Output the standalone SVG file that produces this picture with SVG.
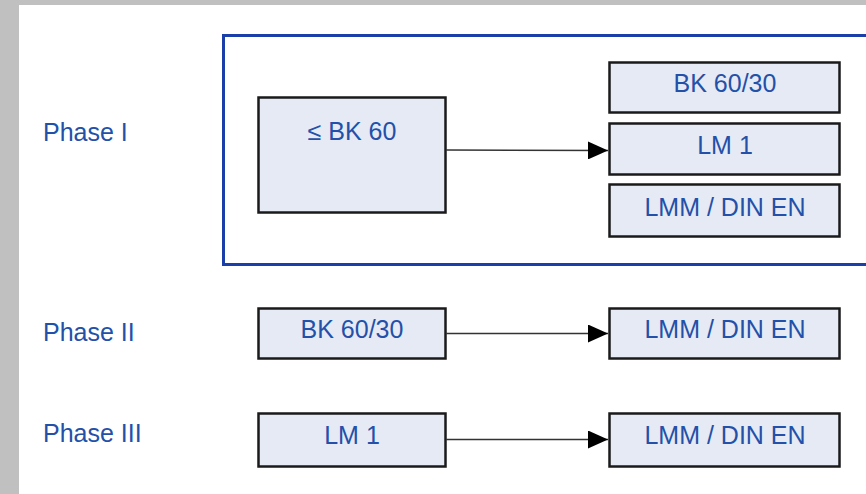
<svg xmlns="http://www.w3.org/2000/svg" width="866" height="494" viewBox="0 0 866 494">
  <style>
    .phase { font-family: "Liberation Sans", Arial, sans-serif; font-size: 25px; fill: #2350a8; }
    .box rect { fill: #e6eaf5; stroke: #1a1a1a; stroke-width: 2.5; }
    .box text { font-family: "Liberation Sans", Arial, sans-serif; font-size: 25px; fill: #2350a8; text-anchor: middle; }
    .conn line { stroke: #333333; stroke-width: 1.6; }
  </style>
  <defs>
    <marker id="arrow" viewBox="0 0 20 18" refX="20" refY="9" markerWidth="20" markerHeight="18" markerUnits="userSpaceOnUse" orient="auto">
      <path d="M0,0 L20,9 L0,18 Z" fill="#000000"/>
    </marker>
  </defs>

  <!-- page background with grey margin -->
  <rect x="0" y="0" width="866" height="494" fill="#c0c0c0"/>
  <rect x="19" y="5" width="847" height="489" fill="#ffffff"/>

  <!-- phase labels -->
  <text class="phase" x="43" y="141">Phase I</text>
  <text class="phase" x="43" y="341">Phase II</text>
  <text class="phase" x="43" y="442">Phase III</text>

  <!-- Phase I frame -->
  <rect id="phase1-frame" x="223.5" y="35.5" width="660" height="229" fill="none" stroke="#1a3fa8" stroke-width="3"/>

  <!-- nodes -->
  <g id="p1-src" class="box">
    <rect x="258.5" y="97.5" width="187" height="115"/>
    <text x="352" y="140">≤ BK 60</text>
  </g>
  <g id="p1-bk6030" class="box">
    <rect x="609.5" y="62.5" width="230" height="50"/>
    <text x="725" y="92">BK 60/30</text>
  </g>
  <g id="p1-lm1" class="box">
    <rect x="609.5" y="123.5" width="230" height="51"/>
    <text x="725" y="154">LM 1</text>
  </g>
  <g id="p1-lmm" class="box">
    <rect x="609.5" y="184.5" width="230" height="52"/>
    <text x="725" y="216">LMM / DIN EN</text>
  </g>

  <g id="p2-src" class="box">
    <rect x="258.5" y="308.5" width="187" height="50"/>
    <text x="352" y="338">BK 60/30</text>
  </g>
  <g id="p2-dst" class="box">
    <rect x="609.5" y="308.5" width="230" height="50"/>
    <text x="725" y="338">LMM / DIN EN</text>
  </g>

  <g id="p3-src" class="box">
    <rect x="258.5" y="413.5" width="187" height="53"/>
    <text x="352" y="444">LM 1</text>
  </g>
  <g id="p3-dst" class="box">
    <rect x="609.5" y="413.5" width="230" height="53"/>
    <text x="725" y="444">LMM / DIN EN</text>
  </g>

  <!-- connectors -->
  <g id="connectors" class="conn">
    <line x1="446" y1="150" x2="608" y2="150.5" marker-end="url(#arrow)"/>
    <line x1="446" y1="333.5" x2="608" y2="333.5" marker-end="url(#arrow)"/>
    <line x1="446" y1="439.5" x2="608" y2="439.5" marker-end="url(#arrow)"/>
  </g>
</svg>
